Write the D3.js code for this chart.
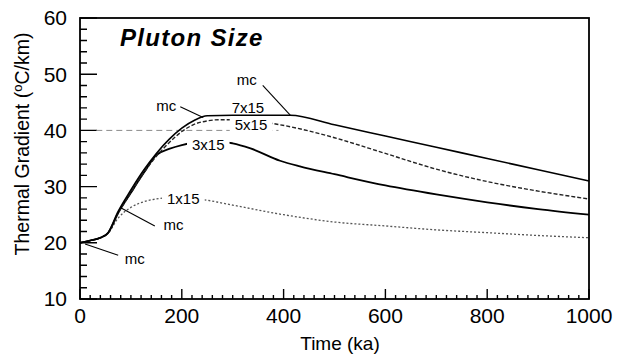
<!DOCTYPE html>
<html>
<head>
<meta charset="utf-8">
<script src="https://cdn.jsdelivr.net/npm/d3@7"></script>
<style>
  html, body { margin: 0; padding: 0; background: #fff; }
  svg { display: block; }
  text { font-family: "Liberation Sans", Arial, Helvetica, sans-serif; fill: #000; }
</style>
</head>
<body>
<svg id="chart" width="624" height="358"></svg>
<script>
// Thermal gradient through time for plutons of different size (km x km)
const time7 = [0, 20, 40, 55, 75, 100, 125, 150, 175, 200, 225, 250, 300, 350, 413, 500, 600, 700, 800, 900, 1000];
const grad7 = [20, 20.4, 20.9, 21.8, 25.6, 29.4, 32.9, 35.9, 38.4, 40.4, 41.8, 42.6, 42.7, 42.7, 42.7, 41.0, 39.0, 37.0, 35.0, 33.0, 31.0];

const time5 = [0, 20, 40, 55, 75, 100, 125, 150, 175, 200, 225, 250, 275, 300, 350, 393, 450, 500, 600, 700, 800, 900, 1000];
const grad5 = [20, 20.4, 20.9, 21.7, 25.3, 28.9, 32.4, 35.4, 37.8, 39.8, 41.1, 41.7, 41.9, 41.9, 41.6, 41.0, 39.9, 38.7, 35.9, 33.1, 30.9, 29.2, 27.8];

const time3 = [0, 20, 40, 55, 75, 100, 125, 150, 175, 200, 225, 250, 275, 300, 335, 393, 432, 500, 600, 700, 800, 900, 1000];
const grad3 = [20, 20.4, 20.9, 21.7, 25.3, 28.9, 32.4, 35.6, 36.7, 37.4, 37.8, 38.0, 38.0, 37.7, 36.8, 34.6, 33.6, 32.2, 30.2, 28.6, 27.2, 26.0, 25.0];

const time1 = [0, 20, 40, 55, 75, 100, 125, 150, 175, 200, 240, 300, 400, 500, 600, 700, 800, 900, 1000];
const grad1 = [20, 20.4, 20.9, 21.7, 24.4, 26.3, 27.3, 27.8, 28.0, 28.0, 27.7, 26.7, 25.0, 23.7, 23.0, 22.3, 21.8, 21.3, 20.9];

// Axis ticks
const xMajor = [0, 200, 400, 600, 800, 1000];
const yMajor = [10, 20, 30, 40, 50, 60];

// Curve labels: text anchored at (t, g)
const sizeLabels = [
  { text: "7x15", t: 298, g: 43.1, box: false },
  { text: "5x15", t: 304, g: 40.1, box: true },
  { text: "3x15", t: 220, g: 36.5, box: true },
  { text: "1x15", t: 171, g: 26.9, box: true }
];
// "mc" callouts: text position and leader line (t0,g0) -> (t1,g1)
const mcLabels = [
  { t: 88, g: 16.2, t0: 10, g0: 19.8, t1: 75, g1: 17.8 },
  { t: 164, g: 22.2, t0: 79, g0: 26.3, t1: 147, g1: 23.0 },
  { t: 150, g: 43.5, t0: 197, g0: 44.2, t1: 242, g1: 42.3 },
  { t: 308, g: 48.0, t0: 359, g0: 48.0, t1: 413, g1: 42.7 }
];

const W = 624, H = 358;
const margin = { top: 18, right: 35, bottom: 59, left: 80 };
const svg = d3.select("#chart");

const x = d3.scaleLinear().domain([0, 1000]).range([margin.left, W - margin.right]);
const y = d3.scaleLinear().domain([10, 60]).range([H - margin.bottom, margin.top]);
const x0 = x.range()[0], yb = y.range()[0];

// Inward-pointing ticks on the left and bottom axes, drawn as one path
const yMinor = d3.range(10, 60.01, 2).filter(v => Math.round(v) % 10 !== 0);
const xMinor = d3.range(0, 1000.01, 20).filter(v => Math.round(v) % 200 !== 0);
const tickPath = d3.path();
yMajor.forEach(v => { tickPath.moveTo(x0, y(v)); tickPath.lineTo(x0 + 17, y(v)); });
yMinor.forEach(v => { tickPath.moveTo(x0, y(v)); tickPath.lineTo(x0 + 7, y(v)); });
xMajor.forEach(v => { tickPath.moveTo(x(v), yb); tickPath.lineTo(x(v), yb - 10); });
xMinor.forEach(v => { tickPath.moveTo(x(v), yb); tickPath.lineTo(x(v), yb - 4); });
svg.append("path")
  .attr("d", tickPath.toString())
  .attr("fill", "none")
  .attr("stroke", "#000")
  .attr("stroke-width", 1.4);

// Faint dashed reference line at 40 °C/km
svg.append("line")
  .attr("x1", x(32)).attr("x2", x(390))
  .attr("y1", y(40)).attr("y2", y(40))
  .attr("stroke", "#8a8a8a").attr("stroke-width", 1)
  .attr("stroke-dasharray", "6,4");

const line = d3.line()
  .x(d => x(d[0])).y(d => y(d[1]))
  .curve(d3.curveMonotoneX);

const series = [
  { t: time1, g: grad1, stroke: "#555", width: 1.3, dash: "2,2" },
  { t: time3, g: grad3, stroke: "#000", width: 1.8, dash: null },
  { t: time5, g: grad5, stroke: "#222", width: 1.4, dash: "4,2" },
  { t: time7, g: grad7, stroke: "#000", width: 1.6, dash: null }
];

svg.append("g").selectAll("path")
  .data(series)
  .join("path")
  .attr("d", s => line(d3.zip(s.t, s.g)))
  .attr("fill", "none")
  .attr("stroke", s => s.stroke)
  .attr("stroke-width", s => s.width)
  .attr("stroke-dasharray", s => s.dash);

// Size labels sitting on the curves
const lab = svg.append("g");
sizeLabels.forEach(d => {
  const tx = lab.append("text")
    .attr("x", x(d.t)).attr("y", y(d.g))
    .attr("font-size", 15)
    .text(d.text);
  if (d.box) {
    const b = tx.node().getBBox();
    lab.insert("rect", "text")
      .attr("x", b.x - 5).attr("y", b.y + 3)
      .attr("width", b.width + 10).attr("height", b.height - 3)
      .attr("fill", "#fff");
  }
});

// "mc" callouts
const mc = svg.append("g");
mcLabels.forEach(d => {
  mc.append("line")
    .attr("x1", x(d.t0)).attr("y1", y(d.g0))
    .attr("x2", x(d.t1)).attr("y2", y(d.g1))
    .attr("stroke", "#000").attr("stroke-width", 1.1);
  mc.append("text")
    .attr("x", x(d.t)).attr("y", y(d.g))
    .attr("font-size", 15)
    .text("mc");
});

// Tick labels
svg.append("g").selectAll("text").data(yMajor).join("text")
  .attr("x", x0 - 13).attr("y", d => y(d))
  .attr("dy", "0.35em").attr("text-anchor", "end")
  .attr("font-size", 21)
  .text(d => d);
svg.append("g").selectAll("text").data(xMajor).join("text")
  .attr("x", d => x(d)).attr("y", yb + 24)
  .attr("text-anchor", "middle")
  .attr("font-size", 21)
  .text(d => d);

// Plot frame
svg.append("rect")
  .attr("x", margin.left).attr("y", margin.top)
  .attr("width", W - margin.left - margin.right)
  .attr("height", H - margin.top - margin.bottom)
  .attr("fill", "none").attr("stroke", "#000").attr("stroke-width", 1.8);

// Title
svg.append("text")
  .attr("x", 120).attr("y", 46)
  .attr("font-size", 24).attr("font-weight", "bold").attr("font-style", "italic")
  .attr("letter-spacing", 1.3)
  .text("Pluton Size");

// Axis titles
svg.append("text")
  .attr("x", 340).attr("y", 350)
  .attr("text-anchor", "middle").attr("font-size", 19)
  .text("Time (ka)");

const yt = svg.append("text")
  .attr("transform", "translate(29,144) rotate(-90)")
  .attr("text-anchor", "middle").attr("font-size", 19.5);
yt.append("tspan").text("Thermal Gradient (");
yt.append("tspan").attr("font-size", 13).attr("dy", -7).text("o");
yt.append("tspan").attr("dy", 7).text("C/km)");
</script>
</body>
</html>
